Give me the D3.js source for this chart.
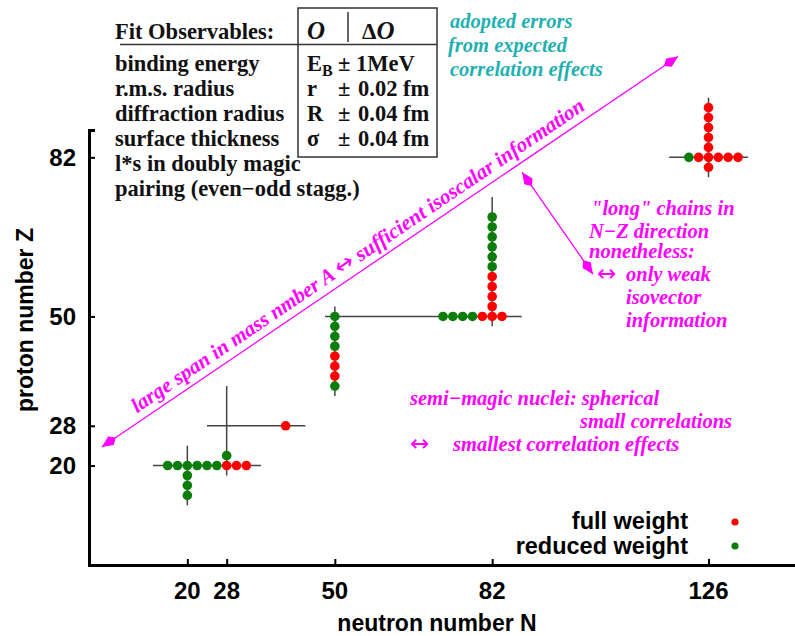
<!DOCTYPE html>
<html>
<head>
<meta charset="utf-8">
<script src="https://cdn.jsdelivr.net/npm/d3@7"></script>
<style>
  body { margin: 0; background: #fff; }
  svg { display: block; }
  .serif { font-family: "Liberation Serif", "Times New Roman", serif; font-weight: bold; }
  .sans { font-family: "Liberation Sans", Arial, sans-serif; font-weight: bold; }
  .sym { font-family: "DejaVu Sans", sans-serif; font-weight: normal; font-style: normal; }
</style>
</head>
<body>
<div id="chart"></div>
<script>
// magic numbers used as ticks
var ticksN = [20, 28, 50, 82, 126];
var ticksZ = [20, 28, 50, 82];

// nuclei used in the fit, [N, Z]
var fullWeight = [
  [28, 20], [30, 20], [32, 20],
  [40, 28],
  [50, 42], [50, 40], [50, 38],
  [80, 50], [82, 50], [84, 50],
  [82, 52], [82, 54], [82, 56], [82, 58],
  [124, 82], [126, 82], [128, 82], [130, 82], [132, 82],
  [126, 84], [126, 86], [126, 88], [126, 90], [126, 92], [126, 80]
];
var reducedWeight = [
  [16, 20], [18, 20], [20, 20], [22, 20], [24, 20], [26, 20],
  [20, 18], [20, 16], [20, 14],
  [28, 22],
  [50, 50], [50, 48], [50, 46], [50, 44], [50, 36],
  [72, 50], [74, 50], [76, 50], [78, 50],
  [82, 60], [82, 62], [82, 64], [82, 66], [82, 68], [82, 70],
  [122, 82]
];

// magic lines: [Z, Nfrom, Nto] and [N, Zfrom, Zto]
var hLines = [[20, 13, 35], [28, 24, 44], [50, 48, 88], [82, 118, 134]];
var vLines = [[20, 12, 24], [28, 18, 36], [50, 34, 52], [82, 48, 74], [126, 78, 94]];

// annotation arrows in (N, Z)
var arrowSpan = [[2.6, 23.75], [119.8, 102.3]];
var arrowChain = [[88.1, 79.0], [102.5, 58.5]];

var width = 795, height = 636;
var magenta = "#ff00ff", cyan = "#1fb0b0";

var x = d3.scaleLinear().domain([0, 144]).range([89, 797]);
var y = d3.scaleLinear().domain([0, 87.5]).range([565, 130]);

var svg = d3.select("#chart").append("svg")
    .attr("width", width)
    .attr("height", height);

// ---- axes
var xAxis = svg.append("g")
    .attr("transform", "translate(0," + y(0) + ")")
    .call(d3.axisTop(x).tickValues(ticksN).tickSize(6).tickFormat(""));
var yAxis = svg.append("g")
    .attr("transform", "translate(" + x(0) + ",0)")
    .call(d3.axisRight(y).tickValues(ticksZ).tickSize(6).tickFormat(""));
[xAxis, yAxis].forEach(function (g) {
  g.select(".domain").attr("stroke", "#000").attr("stroke-width", 3);
  g.selectAll(".tick line").attr("stroke", "#000").attr("stroke-width", 2);
});

svg.append("g").selectAll("text")
    .data(ticksN)
    .join("text")
    .attr("class", "sans")
    .attr("x", d => x(d))
    .attr("y", 599)
    .attr("text-anchor", "middle")
    .style("font-size", "24px")
    .text(d => d);

svg.append("g").selectAll("text")
    .data(ticksZ)
    .join("text")
    .attr("class", "sans")
    .attr("x", 76)
    .attr("y", d => y(d))
    .attr("dy", "0.36em")
    .attr("text-anchor", "end")
    .style("font-size", "24px")
    .text(d => d);

svg.append("text")
    .attr("class", "sans")
    .attr("x", 437).attr("y", 631)
    .attr("text-anchor", "middle")
    .style("font-size", "23px")
    .text("neutron number N");

svg.append("text")
    .attr("class", "sans")
    .attr("transform", "translate(33,320)rotate(-90)")
    .attr("text-anchor", "middle")
    .style("font-size", "23px")
    .text("proton number Z");

// ---- magic lines
svg.append("g").selectAll("line")
    .data(hLines)
    .join("line")
    .attr("x1", d => x(d[1])).attr("x2", d => x(d[2]))
    .attr("y1", d => y(d[0])).attr("y2", d => y(d[0]))
    .attr("stroke", "#444").attr("stroke-width", 1.5);
svg.append("g").selectAll("line")
    .data(vLines)
    .join("line")
    .attr("x1", d => x(d[0])).attr("x2", d => x(d[0]))
    .attr("y1", d => y(d[1])).attr("y2", d => y(d[2]))
    .attr("stroke", "#444").attr("stroke-width", 1.5);

// ---- nuclei
function dots(data, color) {
  svg.append("g").selectAll("circle")
      .data(data)
      .join("circle")
      .attr("cx", d => x(d[0]))
      .attr("cy", d => y(d[1]))
      .attr("r", 4.8)
      .attr("fill", color);
}
dots(reducedWeight, "#0a7d0a");
dots(fullWeight, "#ff0000");

// ---- legend
var legend = [["full weight", "#ff0000"], ["reduced weight", "#0a7d0a"]];
legend.forEach(function (l, i) {
  svg.append("text")
      .attr("class", "sans")
      .attr("x", 688).attr("y", 529 + i * 25)
      .attr("text-anchor", "end")
      .style("font-size", "23.5px")
      .text(l[0]);
  svg.append("circle")
      .attr("cx", 735).attr("cy", 522 + i * 24)
      .attr("r", 3.6)
      .attr("fill", l[1]);
});

// ---- arrows
function arrow(pts) {
  var p0 = [x(pts[0][0]), y(pts[0][1])], p1 = [x(pts[1][0]), y(pts[1][1])];
  svg.append("line")
      .attr("x1", p0[0]).attr("y1", p0[1])
      .attr("x2", p1[0]).attr("y2", p1[1])
      .attr("stroke", magenta).attr("stroke-width", 1.3);
  var head = "M0,0L-11,-5L-17,0L-11,5Z";
  [[p1, p0], [p0, p1]].forEach(function (e) {
    var a = Math.atan2(e[0][1] - e[1][1], e[0][0] - e[1][0]) * 180 / Math.PI;
    svg.append("path")
        .attr("d", head)
        .attr("transform", "translate(" + e[0][0] + "," + e[0][1] + ")rotate(" + a + ")")
        .attr("fill", magenta);
  });
  return [p0, p1];
}
var span = arrow(arrowSpan);
arrow(arrowChain);

// text along the long arrow
var dx = span[1][0] - span[0][0], dy = span[1][1] - span[0][1];
var len = Math.sqrt(dx * dx + dy * dy);
var ux = dx / len, uy = dy / len;
var ang = Math.atan2(dy, dx) * 180 / Math.PI;
var t0 = 48, off = 8;
var diag = svg.append("text")
    .attr("class", "serif")
    .attr("transform", "translate(" + (span[0][0] + ux * t0 + uy * off) + "," +
      (span[0][1] + uy * t0 - ux * off) + ")rotate(" + ang + ")")
    .style("font-size", "21px").style("font-style", "italic")
    .attr("fill", magenta);
diag.append("tspan").text("large span in mass nmber A ");
diag.append("tspan").attr("class", "sym").style("font-size", "23px").text("\u2194");
diag.append("tspan").text(" sufficient isoscalar information");

// ---- observables table
var left = [
  ["binding energy", 71], ["r.m.s. radius", 96], ["diffraction radius", 121],
  ["surface thickness", 146], ["l*s in doubly magic", 171], ["pairing (even\u2212odd stagg.)", 196]
];
var right = [["r", "0.02 fm", 96], ["R", "0.04 fm", 121], ["\u03c3", "0.04 fm", 146]];

var tbl = svg.append("g").attr("class", "serif").style("font-size", "22.5px").attr("fill", "#111");
tbl.append("text").attr("x", 115).attr("y", 39).text("Fit Observables:");
tbl.selectAll(".row")
    .data(left)
    .join("text")
    .attr("x", 115).attr("y", d => d[1])
    .text(d => d[0]);

tbl.append("rect")
    .attr("x", 298).attr("y", 8).attr("width", 139).attr("height", 149)
    .attr("fill", "none").attr("stroke", "#333").attr("stroke-width", 1.5);
tbl.append("line").attr("x1", 120).attr("x2", 437).attr("y1", 44.5).attr("y2", 44.5)
    .attr("stroke", "#333").attr("stroke-width", 1.5);
tbl.append("line").attr("x1", 348).attr("x2", 348).attr("y1", 12).attr("y2", 42)
    .attr("stroke", "#333").attr("stroke-width", 1.5);

tbl.append("text").attr("x", 307).attr("y", 39)
    .style("font-size", "25px").style("font-style", "italic").text("O");
var hd = tbl.append("text").attr("x", 362).attr("y", 39);
hd.append("tspan").style("font-size", "23px").text("\u0394");
hd.append("tspan").style("font-size", "25px").style("font-style", "italic").text("O");

var eb = tbl.append("text").attr("x", 307).attr("y", 71);
eb.append("tspan").text("E");
eb.append("tspan").attr("dy", 5).style("font-size", "16px").text("B");
tbl.append("text").attr("x", 338).attr("y", 71).text("\u00b1 1MeV");

right.forEach(function (r) {
  tbl.append("text").attr("x", 307).attr("y", r[2]).text(r[0]);
  tbl.append("text").attr("x", 338).attr("y", r[2]).text("\u00b1");
  tbl.append("text").attr("x", 358).attr("y", r[2]).text(r[1]);
});

// ---- remarks
function block(lines, color) {
  var g = svg.append("g").attr("class", "serif")
      .style("font-size", "20.5px").style("font-style", "italic")
      .attr("fill", color);
  g.selectAll("text")
      .data(lines)
      .join("text")
      .attr("class", d => d[0] == "\u2194" ? "sym" : null)
      .style("font-size", d => d[0] == "\u2194" ? "23px" : null)
      .attr("x", d => d[1]).attr("y", d => d[2])
      .text(d => d[0]);
}
block([["adopted errors", 450, 28], ["from expected", 448, 52], ["correlation effects", 450, 76]], cyan);
block([
  ["\"long\" chains in", 591, 215], ["N\u2212Z direction", 589, 238], ["nonetheless:", 589, 258],
  ["\u2194", 597, 281], ["only weak", 626, 281], ["isovector", 626, 304], ["information", 626, 327]
], magenta);
block([
  ["semi\u2212magic nuclei: spherical", 410, 405], ["small correlations", 580, 428],
  ["\u2194", 410, 451], ["smallest correlation effects", 453, 451]
], magenta);
</script>
</body>
</html>
